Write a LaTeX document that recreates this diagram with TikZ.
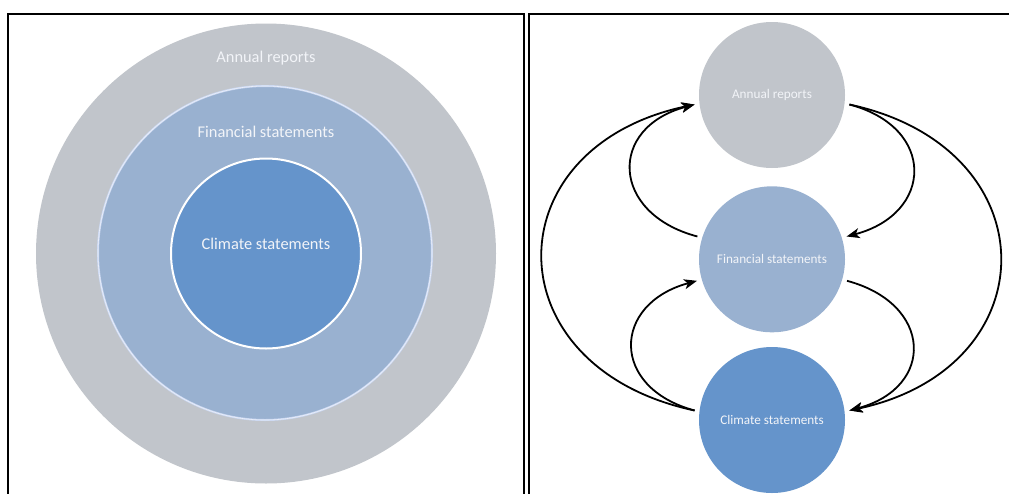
\documentclass[tikz,border=0pt]{standalone}
\usepackage{fontspec}
\setmainfont{Carlito}
\usetikzlibrary{arrows.meta}
\definecolor{grayc}{HTML}{C1C5CB}
\definecolor{midc}{HTML}{99B1D0}
\definecolor{innc}{HTML}{6594CB}
\definecolor{txtc}{HTML}{F2F4F8}
\definecolor{rimc}{HTML}{CBD8F2}
\begin{document}
\begin{tikzpicture}[x=1pt,y=-1pt,
  frame/.style={line width=2pt, black},
  bigtxt/.style={text=txtc, font=\fontsize{16.4}{19}\selectfont, inner sep=0pt},
  rc/.style={circle, minimum size=146pt, inner sep=0pt, outer sep=5pt, text=txtc,
    font=\fontsize{13.2}{15}\selectfont},
  conn/.style={line width=1.8pt, black, -{Stealth[length=13pt,width=10pt,inset=3.5pt]}}]
\useasboundingbox (0,0) rectangle (1009,493);
\clip (0,0) rectangle (1009,493);
\fill[white] (0,0) rectangle (1009,493);
% frames
\draw[frame] (8,500) -- (8,14) -- (524,14) -- (524,500);
\draw[frame] (529,500) -- (529,14) -- (1015,14);
% left panel: nested circles
\node[circle, fill=grayc, minimum size=460pt, inner sep=0pt] (ring1) at (266,253.5) {};
\node[circle, fill=midc, draw=rimc, double=white!60!rimc, double distance=0.6pt, line width=0.7pt, minimum size=334pt, inner sep=0pt] (ring2) at (265,253) {};
\node[circle, fill=innc, draw=white, line width=2pt, minimum size=190pt, inner sep=0pt] (ring3) at (266,253.5) {};
\node[bigtxt] (t1) at (266,58) {Annual reports};
\node[bigtxt] (t2) at (266,132) {Financial statements};
\node[bigtxt] (t3) at (266,244) {Climate statements};
% right panel: cycle
\node[rc, fill=grayc] (A) at (772,95) {Annual reports};
\node[rc, fill=midc] (F) at (772,259.3) {Financial statements};
\node[rc, fill=innc] (C) at (772,420) {Climate statements};
% left connectors
\draw[conn] (F.163) .. controls +(-87,-23) and +(-87,23) .. (A.187);
\draw[conn] (C.173) .. controls +(-85,-23) and +(-85,23) .. (F.196);
\draw[conn] (C.173) .. controls +(-203,-43) and +(-203,43) .. (A.187);
% right connectors
\draw[conn] (A.353) .. controls +(87,23) and +(87,-23) .. (F.17);
\draw[conn] (F.344) .. controls +(86,23) and +(86,-23) .. (C.7);
\draw[conn] (A.353) .. controls +(201,43) and +(201,-43) .. (C.7);
\end{tikzpicture}
\end{document}
